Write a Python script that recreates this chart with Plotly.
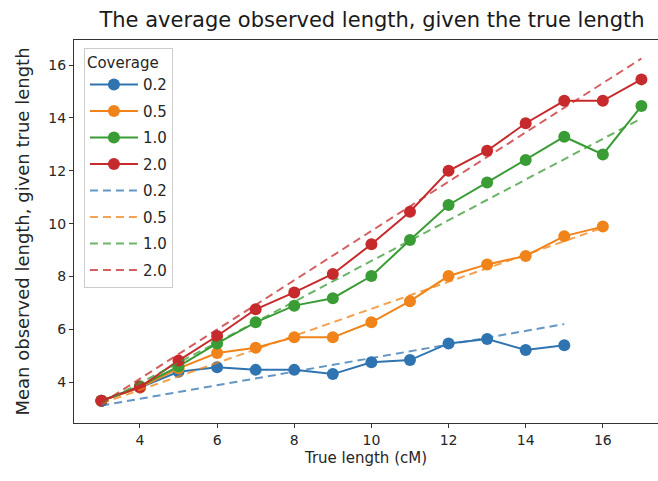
import plotly.graph_objects as go

# True segment lengths (cM)
true_len = list(range(3, 18))

coverage_labels = ["0.2", "0.5", "1.0", "2.0"]
colors = ["#2f74b0", "#f0841a", "#3a9c35", "#c62a2c"]

# Mean observed length per coverage level
obs_02 = [3.3, 3.8, 4.4, 4.57, 4.47, 4.47, 4.31, 4.76, 4.84, 5.47, 5.64, 5.22, 5.40]
obs_05 = [3.3, 3.8, 4.53, 5.11, 5.31, 5.70, 5.70, 6.27, 7.07, 8.02, 8.46, 8.78, 9.53, 9.89]
obs_10 = [3.3, 3.85, 4.6, 5.47, 6.27, 6.90, 7.18, 8.02, 9.38, 10.71, 11.56, 12.41, 13.29, 12.62, 14.45]
obs_20 = [3.3, 3.82, 4.82, 5.75, 6.76, 7.40, 8.10, 9.22, 10.45, 12.0, 12.76, 13.80, 14.65, 14.65, 15.46]
observed = [obs_02, obs_05, obs_10, obs_20]

# Expected length (straight reference lines), start and end points
exp_x = [[3, 15], [3, 16], [3, 17], [3, 17]]
exp_y = [[3.12, 6.2], [3.2, 9.85], [3.2, 13.98], [3.2, 16.25]]

fig = go.Figure()

for i, (lab, col, ys) in enumerate(zip(coverage_labels, colors, observed)):
    fig.add_trace(go.Scatter(
        x=true_len[:len(ys)], y=ys, mode="lines+markers", name=lab,
        legendgroup=f"obs{i}",
        line=dict(color=col, width=2),
        marker=dict(color=col, size=12),
    ))

for i, (lab, col, xs, ys) in enumerate(zip(coverage_labels, colors, exp_x, exp_y)):
    fig.add_trace(go.Scatter(
        x=xs, y=ys, mode="lines", name=lab,
        legendgroup=f"exp{i}",
        line=dict(color=col, width=2, dash="8px,5px"),
        opacity=0.75,
    ))

font_family = "DejaVu Sans"
axis_color = "#333333"

fig.update_layout(
    width=658, height=481,
    margin=dict(l=74, r=0, t=40, b=58),
    paper_bgcolor="white", plot_bgcolor="white",
    font=dict(family=font_family, size=14, color="#262626"),
    title=dict(
        text="The average observed length, given the true length",
        x=372 / 658, xanchor="center", xref="container",
        y=1 - 20 / 481, yanchor="middle", yref="container",
        font=dict(size=21, color="#1a1a1a"),
    ),
    showlegend=True,
    legend=dict(
        title=dict(text="Coverage", font=dict(size=15)),
        x=0.017, y=0.98, xanchor="left", yanchor="top",
        bgcolor="rgba(255,255,255,0.85)",
        bordercolor="#cccccc", borderwidth=1,
        font=dict(size=15),
        itemwidth=48,
        traceorder="grouped", tracegroupgap=4,
    ),
    xaxis=dict(
        range=[2.29, 17.43],
        tickvals=[4, 6, 8, 10, 12, 14, 16],
        ticks="outside", ticklen=4, tickcolor=axis_color,
        showgrid=False, zeroline=False,
        showline=True, linecolor=axis_color, linewidth=1.2, mirror=True,
        title=dict(text="True length (cM)", font=dict(size=15), standoff=5),
    ),
    yaxis=dict(
        range=[2.46, 16.95],
        tickvals=[4, 6, 8, 10, 12, 14, 16],
        ticks="outside", ticklen=4, tickcolor=axis_color,
        showgrid=False, zeroline=False,
        showline=True, linecolor=axis_color, linewidth=1.2,
        title=dict(text="Mean observed length, given true length", font=dict(size=18), standoff=13),
    ),
)

fig.write_html("out.html")
